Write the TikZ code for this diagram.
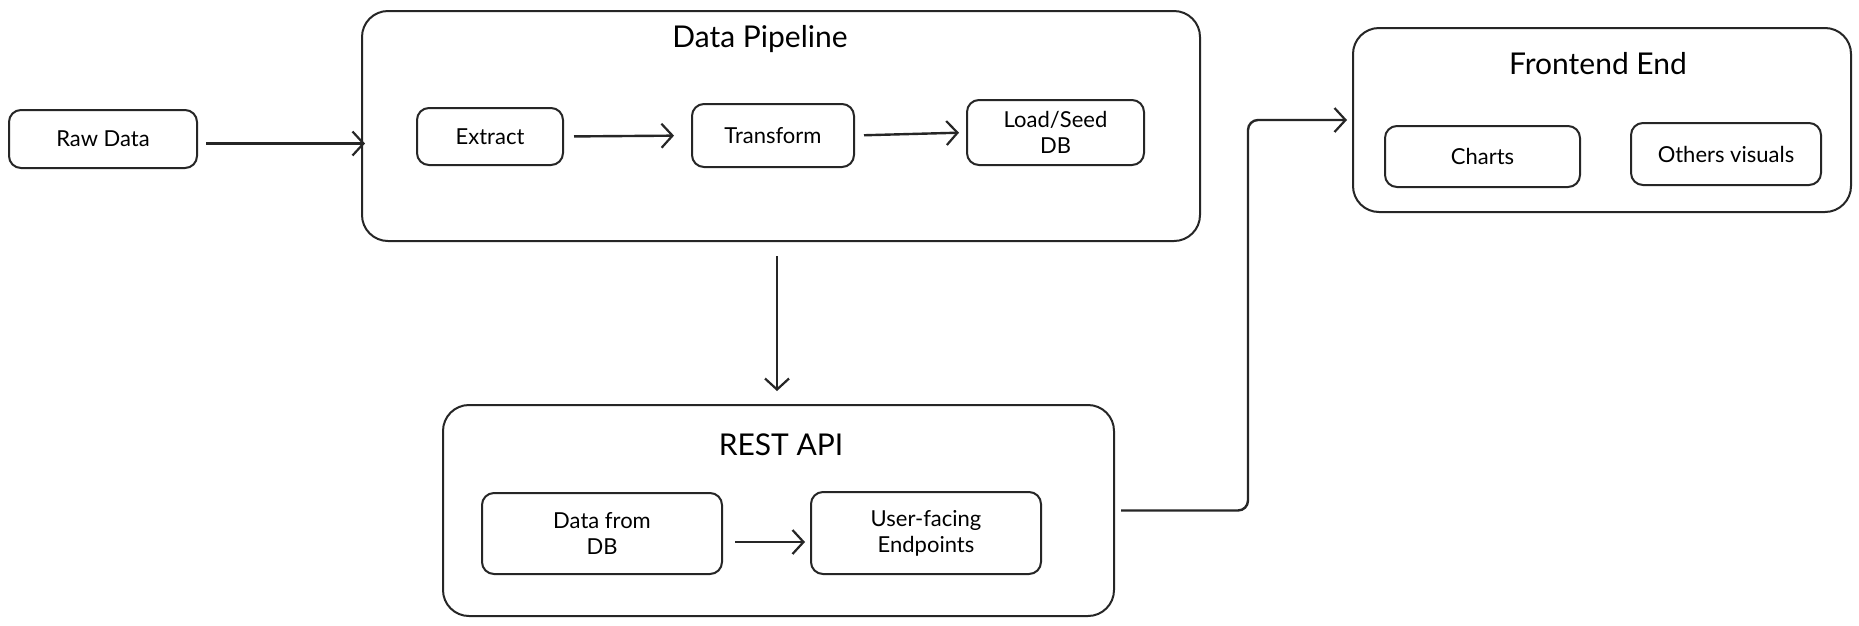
\documentclass[tikz,border=0pt]{standalone}
\usepackage{fontspec}
\setmainfont{Lato}
\usetikzlibrary{arrows.meta,calc}
\begin{document}
\begin{tikzpicture}[x=1pt,y=-1pt,
  box/.style={draw=black!85,line width=2pt,rounded corners=12pt,inner sep=0pt,
    font=\fontsize{22}{26}\selectfont,align=center},
  container/.style={draw=black!85,line width=2pt,rounded corners=26pt,inner sep=0pt},
  ttl/.style={font=\fontsize{30}{34}\selectfont},
  arr/.style={draw=black!85,line width=2.4pt,-{Straight Barb[length=11pt,width=24pt,line width=2.2pt]}},
]
\useasboundingbox[fill=white] (0,0) rectangle (1859,625);
% containers
\node[container,minimum width=838pt,minimum height=230pt] (pipe) at (781,126) {};
\node[ttl] (pipet) at (760,39) {Data Pipeline};
\node[container,minimum width=498pt,minimum height=184pt] (front) at (1602,120) {};
\node[ttl] (frontt) at (1598,64) {Frontend End};
\node[container,minimum width=671pt,minimum height=211pt] (rest) at (778.5,510.5) {};
\node[ttl] (restt) at (781,445) {REST API};
% boxes
\node[box,minimum width=188pt,minimum height=58pt] (raw) at (103,139) {Raw Data};
\node[box,minimum width=146pt,minimum height=57pt] (extract) at (490,136.5) {Extract};
\node[box,minimum width=162pt,minimum height=63pt] (transform) at (773,135.5) {Transform};
\node[box,minimum width=177pt,minimum height=65pt] (load) at (1055.5,132.5) {Load/Seed\\DB};
\node[box,minimum width=195pt,minimum height=61pt] (charts) at (1482.5,156.5) {Charts};
\node[box,minimum width=190pt,minimum height=62pt] (others) at (1726,154) {Others visuals};
\node[box,minimum width=240pt,minimum height=81pt] (dfdb) at (602,533.5) {Data from\\DB};
\node[box,minimum width=230pt,minimum height=82pt] (user) at (926,533) {User-facing\\Endpoints};
% connectors
\coordinate (elbow) at (1248,300);
\draw[arr] ($(raw.east)+(8,4.5)$) -- ($(raw.east -| pipe.west)+(4,4.5)$);
\draw[arr,shorten <=10pt,shorten >=17pt] (extract.east) -- (transform.west);
\draw[arr,shorten <=9pt,shorten >=7pt] (transform.east) -- (load.west);
\draw[arr,shorten <=14pt,shorten >=13pt] ([xshift=-4pt]pipe.south) -- ([xshift=-1.5pt]rest.north);
\draw[arr,rounded corners=10pt] ([xshift=6pt]rest.east) -- (rest.east -| elbow) -- (elbow |- front.west) -- ([xshift=-5pt]front.west);
\draw[arr] ($(dfdb.east)+(12,8.5)$) -- ($(dfdb.east -| user.west)+(-5,8.5)$);
\end{tikzpicture}
\end{document}
